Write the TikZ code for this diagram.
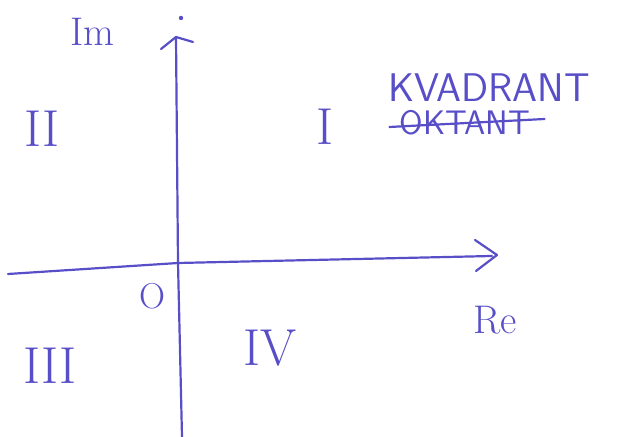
\documentclass[tikz,border=0pt]{standalone}
\usepackage{tikz}
\usetikzlibrary{arrows.meta}

\definecolor{ink}{RGB}{88,78,200}

\begin{document}
\begin{tikzpicture}[
  x=0.5pt, y=-0.5pt,
  pen/.style={draw=ink, line width=1.1pt, line cap=round, line join=round},
  every node/.style={text=ink, inner sep=1pt},
  numeral/.style={font=\fontsize{26}{26}\selectfont},
  word/.style={font=\fontsize{20}{20}\selectfont\sffamily},
  axislabel/.style={font=\fontsize{20}{20}\selectfont}
]
\useasboundingbox (0,0) rectangle (622,437);

% axes
\coordinate (O) at (178,263);
\coordinate (reL) at (8,274);
\coordinate (reR) at (492,256);
\coordinate (imB) at (182,437);
\coordinate (imT) at (176,38);

\draw[pen] (reL) -- (O) -- (reR);
\draw[pen] (imB) -- (O) -- (imT);
\draw[pen] (475,240) -- (497,255) -- (476,271);
\draw[pen] (161,49) -- (176,37) -- (193,42);
\fill[ink] (181,18) circle (2.2);

\node[axislabel] (im) at (92,32) {Im};
\node[axislabel] (re) at (495,320) {Re};
\node[font=\fontsize{18}{18}\selectfont] (orig) at (152,296) {O};

% quadrants
\node[numeral] (q1) at (325,127) {I};
\node[numeral] (q2) at (42,129) {II};
\node[numeral] (q3) at (50,366) {III};
\node[numeral] (q4) at (270,348) {IV};

\node[word] (kv) at (489,88) {KVADRANT};
\node[word, font=\fontsize{17}{17}\selectfont\sffamily] (okt) at (465,123) {OKTANT};
\draw[pen] ([xshift=-4,yshift=-2]okt.west) -- ([xshift=6,yshift=2]okt.east);
\end{tikzpicture}
\end{document}
